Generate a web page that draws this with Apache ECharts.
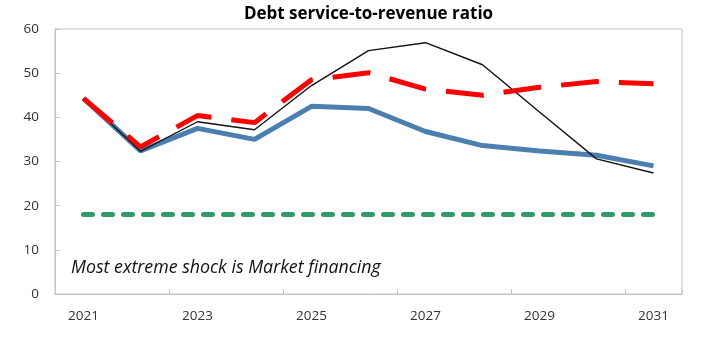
<!DOCTYPE html>
<html>
<head>
<meta charset="utf-8">
<script src="https://cdn.jsdelivr.net/npm/echarts@6/dist/echarts.min.js"></script>
<style>
  html, body { margin: 0; padding: 0; background: #fff; }
  #chart { width: 702px; height: 345px; }
</style>
</head>
<body>
<div id="chart"></div>
<script>
// Years on the horizontal axis
const years = ['2021', '2022', '2023', '2024', '2025', '2026', '2027', '2028', '2029', '2030', '2031'];

// Debt service-to-revenue ratio, by scenario
const baseline       = [44.3, 32.4, 37.5, 35.0, 42.5, 42.0, 36.8, 33.6, 32.4, 31.4, 29.0];
const historical     = [44.3, 32.3, 39.0, 37.2, 47.2, 55.1, 56.9, 51.9, 41.2, 30.6, 27.4];
const marketShock    = [44.3, 33.3, 40.4, 38.8, 48.5, 50.1, 46.4, 45.0, 46.8, 48.1, 47.6];
const threshold      = [18, 18, 18, 18, 18, 18, 18, 18, 18, 18, 18];

// Value axis ticks
const yMin = 0, yMax = 60, yStep = 10;

const chart = echarts.init(document.getElementById('chart'), null, { renderer: 'canvas' });

const labelFont = { fontFamily: 'Open Sans', fontSize: 13.5, color: '#333333' };

// Plot box, in pixels from the container edges
const gridBox = { left: 55, right: 20, top: 29, bottom: 51 };
const plotCenterX = gridBox.left + (702 - gridBox.left - gridBox.right) / 2;

chart.setOption({
  animation: false,
  backgroundColor: '#ffffff',
  grid: Object.assign({ show: true, borderColor: '#c4c4c4', borderWidth: 1 }, gridBox),
  xAxis: {
    type: 'category',
    data: years,
    boundaryGap: true,
    axisLine: { lineStyle: { color: '#c4c4c4', width: 1 } },
    axisTick: { show: true, inside: true, length: 5, interval: 1, lineStyle: { color: '#c4c4c4' } },
    axisLabel: Object.assign({ interval: 1, margin: 15 }, labelFont),
    splitLine: { show: false }
  },
  yAxis: {
    type: 'value',
    min: yMin, max: yMax, interval: yStep,
    axisLine: { show: true, lineStyle: { color: '#c4c4c4', width: 1 } },
    axisTick: { show: true, inside: true, length: 5, lineStyle: { color: '#c4c4c4' } },
    axisLabel: Object.assign({ margin: 16 }, labelFont),
    splitLine: { show: false }
  },
  graphic: [
    {
      // Chart title, centred over the plot box
      type: 'text',
      x: plotCenterX,
      y: 14,
      style: {
        text: 'Debt service-to-revenue ratio',
        fontFamily: 'Open Sans', fontWeight: 'bold', fontSize: 17, fill: '#000',
        align: 'center', verticalAlign: 'middle'
      }
    },
    {
      type: 'text',
      left: 71,
      top: 259,
      style: {
        text: 'Most extreme shock is Market financing',
        fontFamily: 'Open Sans', fontStyle: 'italic', fontSize: 17.8, fill: '#111'
      }
    }
  ],
  series: [
    {
      name: 'Threshold', type: 'line', data: threshold, symbol: 'none',
      lineStyle: { color: '#2f9a68', width: 5, type: [9, 11], cap: 'round' }
    },
    {
      name: 'Historical', type: 'line', data: historical, symbol: 'none',
      lineStyle: { color: '#111', width: 1.4 }, z: 4
    },
    {
      name: 'Baseline', type: 'line', data: baseline, symbol: 'none',
      lineStyle: { color: '#4a7fb0', width: 5 }, z: 3
    },
    {
      name: 'Most extreme shock', type: 'line', data: marketShock, symbol: 'none',
      lineStyle: { color: '#ff0000', width: 5, type: [38, 20] }, z: 5
    }
  ]
});
</script>
</body>
</html>
